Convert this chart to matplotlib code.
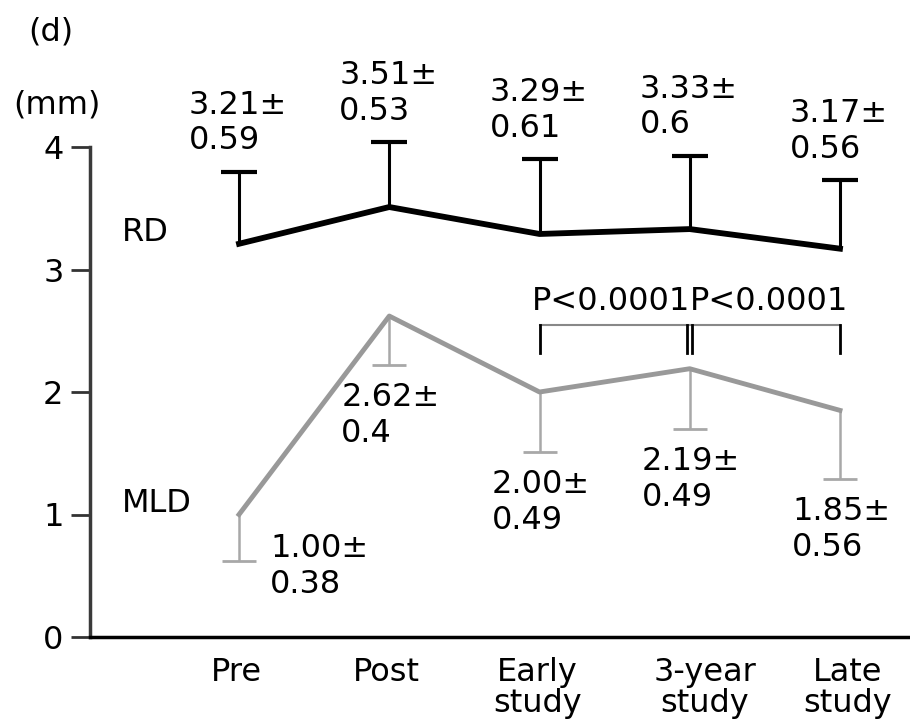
import matplotlib.pyplot as plt

# data
stages = ['Pre', 'Post', 'Early\nstudy', '3-year\nstudy', 'Late\nstudy']
rd_mean = [3.21, 3.51, 3.29, 3.33, 3.17]
rd_sd = [0.59, 0.53, 0.61, 0.6, 0.56]
mld_mean = [1.00, 2.62, 2.00, 2.19, 1.85]
mld_sd = [0.38, 0.4, 0.49, 0.49, 0.56]
rd_text = ['3.21±\n0.59', '3.51±\n0.53', '3.29±\n0.61', '3.33±\n0.6', '3.17±\n0.56']
mld_text = ['1.00±\n0.38', '2.62±\n0.4', '2.00±\n0.49', '2.19±\n0.49', '1.85±\n0.56']
p_text = ['P<0.0001', 'P<0.0001']

plt.rcParams['font.family'] = 'DejaVu Sans'
fs = 23

fig = plt.figure(figsize=(9.1, 7.21), dpi=100)
ax = fig.add_axes([90 / 910, 1 - 637 / 721, 820 / 910, 600 / 721])
x = list(range(len(stages)))
zeros = [0] * len(x)

# RD: black, error bars upward only
eb = ax.errorbar(x, rd_mean, yerr=[zeros, rd_sd], fmt='none', ecolor='black',
                 elinewidth=2.2, capsize=13, capthick=3, zorder=2)
eb[1][0].set_visible(False)
ax.plot(x, rd_mean, color='black', lw=4.2, zorder=3)

# MLD: gray, error bars downward only
eb = ax.errorbar(x, mld_mean, yerr=[mld_sd, zeros], fmt='none', ecolor='#a8a8a8',
                 elinewidth=1.8, capsize=12.5, capthick=2, zorder=2)
eb[1][1].set_visible(False)
ax.plot(x, mld_mean, color='#999999', lw=3.5, zorder=3)

# value labels
for i in x:
    ax.annotate(rd_text[i], xy=(i, rd_mean[i] + rd_sd[i]), xytext=(-50, 82),
                textcoords='offset pixels', ha='left', va='top', fontsize=fs)
    if i == 0:
        off = (31, 28)
    else:
        off = (-48, -17)
    ax.annotate(mld_text[i], xy=(i, mld_mean[i] - mld_sd[i]), xytext=off,
                textcoords='offset pixels', ha='left', va='top', fontsize=fs)

# significance brackets (Early vs 3-year, 3-year vs Late)
by, bl = 2.547, 0.23
ax.plot([2, 4], [by, by], color='#888888', lw=1.5)
for xv in [2, 3 - 0.018, 3 + 0.018, 4]:
    ax.plot([xv, xv], [by, by - bl], color='black', lw=2)
ax.text(3, 2.735, p_text[0], ha='right', va='center', fontsize=fs)
ax.text(3, 2.735, p_text[1], ha='left', va='center', fontsize=fs)

ax.set_xlim(-0.992, 4.466)
ax.set_ylim(0, 600 / 122.5)
ax.set_yticks([0, 1, 2, 3, 4])
ax.set_xticks([])

# category labels under the axis, nudged like the original
for i, dx in zip(x, [-3, -3, -2, 15, 8]):
    ax.annotate(stages[i], xy=(i, 0), xytext=(dx, -20), textcoords='offset pixels',
                ha='center', va='top', fontsize=fs, linespacing=1.0,
                multialignment='center', annotation_clip=False)

for s in ['top', 'right']:
    ax.spines[s].set_visible(False)
ax.spines['left'].set_bounds(0, 4)
ax.spines['left'].set_linewidth(2.5)
ax.spines['left'].set_color('#3a3a3a')
ax.spines['bottom'].set_linewidth(2.5)
ax.tick_params(axis='y', length=14, width=2, pad=5, labelsize=fs, color='#333333')

fig.text(122 / 910, 1 - 232 / 721, 'RD', va='center', fontsize=fs)
fig.text(122 / 910, 1 - 503 / 721, 'MLD', va='center', fontsize=fs)
fig.text(13 / 910, 1 - 105 / 721, '(mm)', va='center', fontsize=fs)
fig.text(28 / 910, 1 - 32 / 721, '(d)', va='center', fontsize=fs)

fig.savefig('out.png', dpi=100)
